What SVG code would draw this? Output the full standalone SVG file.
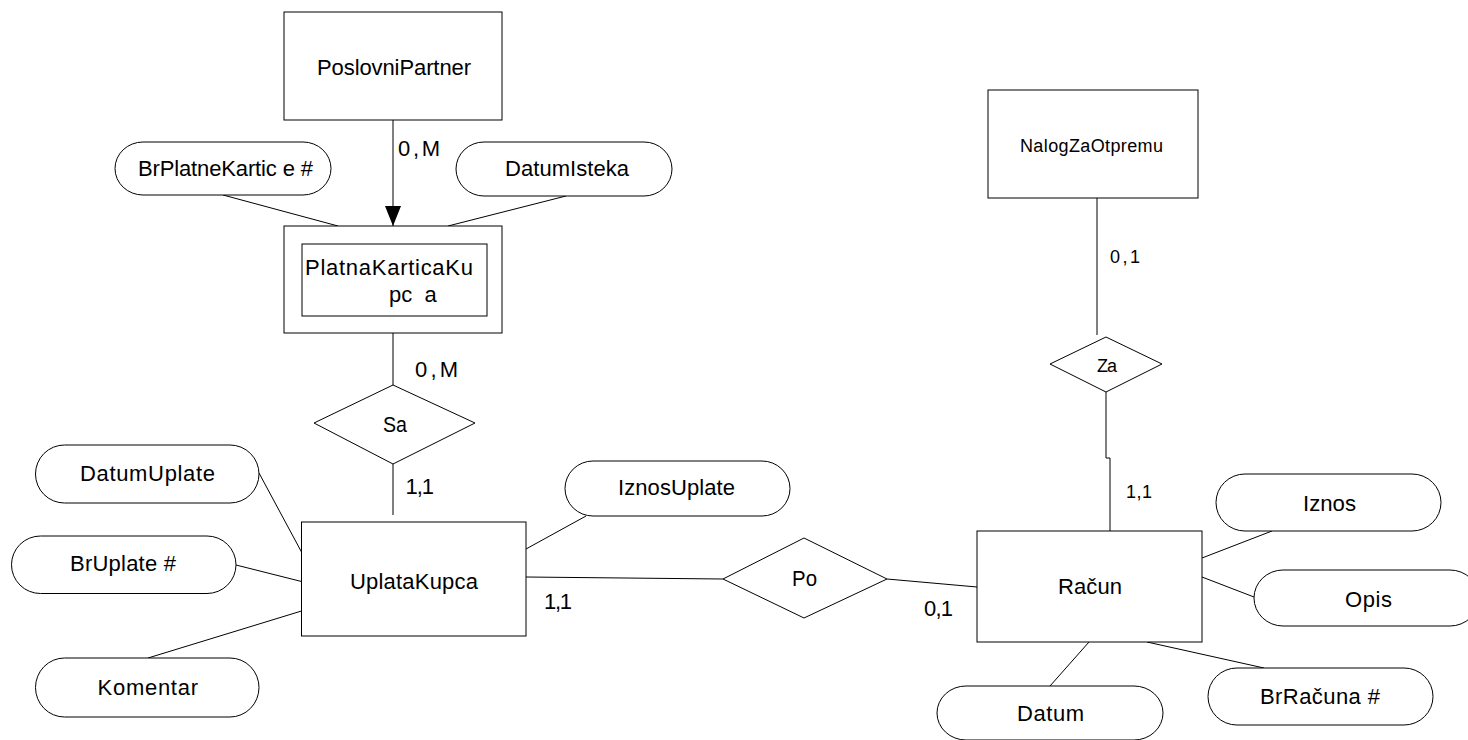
<svg xmlns="http://www.w3.org/2000/svg" width="1468" height="740" viewBox="0 0 1468 740">
  <style>
    .ent { fill: #ffffff; stroke: #000000; stroke-width: 1; }
    .attr { fill: #ffffff; stroke: #000000; stroke-width: 1; }
    .rel { fill: #ffffff; stroke: #000000; stroke-width: 1; }
    .conn { fill: none; stroke: #000000; stroke-width: 1; }
    text { font-family: "Liberation Sans", Arial, sans-serif; font-size: 22px; fill: #000000; }
    .sm { font-size: 18px; }
    .card { font-size: 22px; }
  </style>
  <defs>
    <!-- filled arrowhead, tip at the end of the line -->
    <marker id="arrow" markerUnits="userSpaceOnUse" markerWidth="20" markerHeight="16" refX="20" refY="8" orient="auto" viewBox="0 0 20 16">
      <path d="M0,0 L20,8 L0,16 Z" fill="#000000"/>
    </marker>
  </defs>
  <rect width="1468" height="740" fill="#ffffff"/>

  <!-- connectors -->
  <g id="connectors">
    <line class="conn" x1="393" y1="120" x2="393" y2="226" marker-end="url(#arrow)"/>
    <line class="conn" x1="223" y1="195" x2="338" y2="226"/>
    <line class="conn" x1="566" y1="196" x2="448" y2="226"/>
    <line class="conn" x1="393" y1="333" x2="393" y2="385"/>
    <line class="conn" x1="393" y1="464" x2="393" y2="515"/>
    <line class="conn" x1="259" y1="473" x2="301.5" y2="552"/>
    <line class="conn" x1="236" y1="565" x2="301.5" y2="581.5"/>
    <line class="conn" x1="148" y1="658" x2="301.5" y2="611"/>
    <line class="conn" x1="586" y1="516" x2="526" y2="549"/>
    <line class="conn" x1="526" y1="577" x2="723" y2="579"/>
    <line class="conn" x1="887" y1="579" x2="977" y2="587"/>
    <line class="conn" x1="1097" y1="198" x2="1097" y2="335"/>
    <polyline class="conn" points="1106,392 1106,458 1110,458 1110,531"/>
    <line class="conn" x1="1272" y1="531" x2="1202" y2="558"/>
    <line class="conn" x1="1202" y1="577" x2="1254" y2="597"/>
    <line class="conn" x1="1147" y1="642" x2="1264" y2="668"/>
    <line class="conn" x1="1089" y1="642" x2="1050" y2="686"/>
  </g>

  <!-- cardinality labels -->
  <g id="cardinalities">
    <text class="card" x="398" y="156" textLength="42" lengthAdjust="spacing">0,M</text>
    <text class="card" x="415" y="377" textLength="43" lengthAdjust="spacing">0,M</text>
    <text class="card" x="405.5" y="494" textLength="28.5" lengthAdjust="spacing">1,1</text>
    <text class="card" x="544" y="609" textLength="28" lengthAdjust="spacing">1,1</text>
    <text class="card" x="924" y="616" textLength="29" lengthAdjust="spacing">0,1</text>
    <text class="sm" x="1110" y="263" textLength="30" lengthAdjust="spacing">0,1</text>
    <text class="sm" x="1126" y="498" textLength="26" lengthAdjust="spacing">1,1</text>
  </g>

  <!-- entities -->
  <g id="PoslovniPartner">
    <rect class="ent" x="284" y="12" width="218" height="108"/>
    <text x="317" y="75" textLength="154" lengthAdjust="spacing">PoslovniPartner</text>
  </g>
  <g id="PlatnaKarticaKupca">
    <rect class="ent" x="284" y="226" width="218" height="107"/>
    <rect class="ent" x="302" y="244" width="185" height="72"/>
    <text x="305" y="275" textLength="168" lengthAdjust="spacing">PlatnaKarticaKu</text>
    <text x="389" y="302" xml:space="preserve" style="white-space: pre">pc  a</text>
  </g>
  <g id="NalogZaOtpremu">
    <rect class="ent" x="988" y="90" width="210" height="108"/>
    <text class="sm" x="1020" y="152" textLength="143" lengthAdjust="spacing">NalogZaOtpremu</text>
  </g>
  <g id="UplataKupca">
    <rect class="ent" x="301.5" y="522" width="224.5" height="114"/>
    <text x="350" y="589" textLength="128" lengthAdjust="spacing">UplataKupca</text>
  </g>
  <g id="Racun">
    <rect class="ent" x="977" y="531" width="225" height="111"/>
    <text x="1058" y="594" textLength="64" lengthAdjust="spacing">Račun</text>
  </g>

  <!-- relationships -->
  <g id="Sa">
    <polygon class="rel" points="314,423 393,385 475,423 393,464"/>
    <text x="383" y="432" textLength="24" lengthAdjust="spacingAndGlyphs">Sa</text>
  </g>
  <g id="Po">
    <polygon class="rel" points="723,579 804,538 887,579 804,618"/>
    <text x="792" y="586" textLength="25" lengthAdjust="spacingAndGlyphs">Po</text>
  </g>
  <g id="Za">
    <polygon class="rel" points="1050,364 1106,337 1162,364 1106,392"/>
    <text class="sm" x="1097" y="372" textLength="20" lengthAdjust="spacing">Za</text>
  </g>

  <!-- attributes -->
  <g id="BrPlatneKartice">
    <rect class="attr" x="115" y="142" width="216" height="53" rx="28" ry="26.5"/>
    <text x="138" y="176" textLength="175" lengthAdjust="spacing">BrPlatneKartic e #</text>
  </g>
  <g id="DatumIsteka">
    <rect class="attr" x="456" y="142" width="216" height="54" rx="28" ry="27"/>
    <text x="505" y="176" textLength="124" lengthAdjust="spacing">DatumIsteka</text>
  </g>
  <g id="DatumUplate">
    <rect class="attr" x="35.5" y="445" width="223.5" height="58" rx="29" ry="29"/>
    <text x="80" y="481" textLength="135" lengthAdjust="spacing">DatumUplate</text>
  </g>
  <g id="BrUplate">
    <rect class="attr" x="11.5" y="536" width="224.5" height="57.5" rx="29" ry="28.75"/>
    <text x="70" y="571" textLength="106" lengthAdjust="spacing">BrUplate #</text>
  </g>
  <g id="Komentar">
    <rect class="attr" x="35.5" y="658" width="223.5" height="59" rx="29" ry="29.5"/>
    <text x="97.5" y="695" textLength="100.5" lengthAdjust="spacing">Komentar</text>
  </g>
  <g id="IznosUplate">
    <rect class="attr" x="565" y="461" width="225" height="55" rx="28" ry="27.5"/>
    <text x="618" y="495" textLength="117" lengthAdjust="spacing">IznosUplate</text>
  </g>
  <g id="Iznos">
    <rect class="attr" x="1216" y="474" width="225" height="57" rx="29" ry="28.5"/>
    <text x="1303" y="511" textLength="53" lengthAdjust="spacingAndGlyphs">Iznos</text>
  </g>
  <g id="Opis">
    <rect class="attr" x="1254" y="570" width="225" height="56" rx="29" ry="28"/>
    <text x="1345" y="607" textLength="47" lengthAdjust="spacing">Opis</text>
  </g>
  <g id="BrRacuna">
    <rect class="attr" x="1208" y="668" width="225" height="57" rx="29" ry="28.5"/>
    <text x="1260" y="704" textLength="120" lengthAdjust="spacing">BrRačuna #</text>
  </g>
  <g id="Datum">
    <rect class="attr" x="937" y="686" width="226" height="54" rx="29" ry="27"/>
    <text x="1017" y="721" textLength="67" lengthAdjust="spacing">Datum</text>
  </g>
</svg>
